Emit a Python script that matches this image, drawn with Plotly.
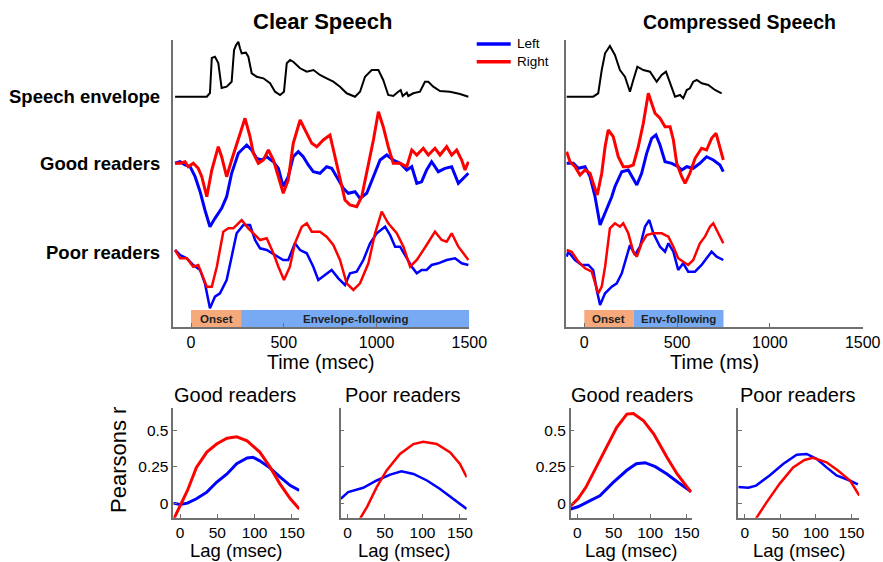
import plotly.graph_objects as go

# ---------------- DATA ----------------
# Top panels: time in ms, amplitude in arbitrary display units relative to each row baseline
ENV_BASE, GOOD_BASE, POOR_BASE = 230.3, 163.7, 77.0

clear_env_t = [-86, 85, 102, 112, 129, 147, 165, 192, 219, 232, 243, 255, 264, 273, 296, 309, 327, 354, 390, 426, 453, 480, 501, 516, 534, 551, 588, 624, 660, 695, 731, 767, 803, 839, 884, 911, 938, 974, 1010, 1036, 1063, 1090, 1117, 1130, 1141, 1163, 1171, 1198, 1234, 1261, 1279, 1306, 1342, 1396, 1450, 1495]
clear_env_v = [0, 0, 3.7, 38.7, 40, 33.7, 8.7, 10, 15, 46.7, 51.7, 55, 48.4, 43.4, 44, 40, 23.4, 20, 18.4, 13.4, 5, 1.7, 5, 33.4, 36.7, 35, 28.4, 25, 26.7, 21.7, 18.4, 15, 10, 3.4, 0, 5, 20, 26.7, 26.7, 16.7, 1.7, 0.7, 5, 6.7, 0.7, 4, 0.7, 3.4, 5, 15, 15, 10, 5.7, 5, 2.7, 0]

clear_good_left_t = [-86, -59, -32, -5, 22, 49, 75, 102, 129, 165, 192, 219, 255, 300, 327, 354, 381, 408, 444, 471, 497, 524, 551, 578, 605, 632, 659, 695, 731, 758, 785, 821, 848, 884, 911, 947, 983, 1019, 1055, 1090, 1127, 1163, 1190, 1217, 1243, 1270, 1297, 1333, 1369, 1405, 1441, 1468, 1495]
clear_good_left_v = [0, 1.6, -1.7, -3.4, -13.4, -28.4, -46.7, -63.4, -55, -45, -33.4, -10, 10, 18.3, 13.3, 5, 3.3, 6.6, 1.6, -5, -23.4, -13.4, 6.6, 11.6, 6.6, -1.7, -8.4, -10, -3.4, -5, -13.4, -25, -30, -28.4, -35, -30, -13.4, 3.3, 8.3, 3.3, 0, -6.7, -3.4, -20, -18.4, -6.7, 1.6, -8.4, -5, -3.4, -20, -15, -10]

clear_good_right_t = [-86, -59, -32, -15, 12, 39, 58, 85, 112, 147, 165, 192, 219, 255, 291, 318, 336, 363, 390, 417, 444, 471, 497, 524, 551, 588, 615, 651, 678, 713, 749, 767, 803, 830, 857, 893, 920, 947, 983, 1010, 1036, 1063, 1090, 1127, 1163, 1190, 1217, 1252, 1279, 1315, 1342, 1378, 1405, 1432, 1459, 1477, 1495]
clear_good_right_v = [0, 0, 1.6, -3.4, 0, -5, -13.4, -33.4, -6.7, 16.6, 6.6, -13.4, 3.3, 23.3, 45, 26.6, 10, 0, 3.3, 13.3, 3.3, -13.4, -30, -16.7, 20, 43.3, 33.3, 20, 16.6, 23.3, 28.3, 13.3, -16.7, -36.7, -41.7, -43.4, -33.4, -10, 23.3, 51.6, 36.6, 16.6, 0, 0, -3.4, 13.3, 8.3, 15, 8.3, 15, 8.3, 16.6, 8.3, 13.3, 3.3, -6.7, 1.6]

clear_poor_left_t = [-86, -59, -23, 12, 49, 75, 102, 129, 156, 192, 219, 246, 282, 318, 345, 372, 408, 453, 497, 524, 560, 588, 624, 659, 686, 722, 758, 794, 830, 857, 893, 929, 965, 1001, 1046, 1073, 1100, 1127, 1163, 1190, 1217, 1243, 1270, 1297, 1333, 1378, 1423, 1459, 1495]
clear_poor_left_v = [0, -5, -8.3, -15, -20, -33.3, -58.3, -46.7, -43.3, -30, -6.7, 16.7, 25, 25, 10, 1.7, 0, -5, -10, -10, 6.7, 0, -3.3, -16.7, -30, -25, -20, -28.3, -35, -23.3, -21.7, -10, 6.7, 16.7, 23.3, 15, 3.3, 3.3, -8.3, -16.7, -23.3, -20, -20, -15, -13.3, -10, -8.3, -13.3, -15]

clear_poor_right_t = [-86, -59, -23, 12, 39, 66, 85, 112, 139, 174, 201, 228, 273, 309, 345, 372, 408, 444, 471, 501, 533, 560, 597, 624, 651, 695, 731, 767, 803, 839, 875, 911, 956, 992, 1028, 1063, 1109, 1145, 1181, 1217, 1270, 1315, 1351, 1378, 1405, 1441, 1468, 1495]
clear_poor_right_v = [0, -8.3, -8.3, -16.7, -15, -28.3, -36.7, -36.7, -16.7, 18.3, 21.7, 21.7, 30, 21.7, 15, 10, 11.7, -3.3, -16.7, -30, -16.7, 6.7, 23.3, 26.7, 18.3, 18.3, 13.3, 5, -10, -33.3, -40, -33.3, -13.3, 16.7, 38.3, 26.7, 16.7, 3.3, -16.7, -10, 5, 18.3, 10, 8.3, 16.7, 3.3, -3.3, -10]

comp_env_t = [-95, 48, 75, 94, 112, 138, 165, 192, 219, 246, 264, 286, 318, 354, 390, 417, 440, 462, 489, 516, 533, 552, 569, 587, 606, 633, 668, 704, 740]
comp_env_v = [0, 0, 3.4, 26.7, 43.4, 50.7, 41.7, 26.7, 20, 5, 16.7, 30, 26.7, 25, 15, 21.7, 25, 13.4, 0, 1.7, -1.6, 6.7, 8.4, 15, 16.7, 13.4, 11.7, 6.7, 3.4]

comp_good_left_t = [-95, -59, -32, 4, 31, 58, 85, 112, 148, 165, 202, 237, 264, 283, 309, 336, 363, 386, 408, 435, 471, 506, 525, 552, 587, 623, 659, 695, 731, 749]
comp_good_left_v = [0, 0, -5, -3.4, -13.4, -33.4, -61.7, -50, -33.4, -23.4, -8.4, -6.7, -15, -21.7, -10, 10, 25, 28.3, 18.3, 1.6, 0, -3.4, -6.7, -3.4, -5, 0, 6.6, 3.3, -1.7, -8.4]

comp_good_right_t = [-95, -77, -50, -23, 4, 31, 48, 70, 94, 112, 129, 156, 183, 210, 237, 264, 291, 318, 345, 363, 381, 408, 435, 462, 480, 498, 525, 543, 569, 597, 632, 659, 686, 710, 731, 749]
comp_good_right_v = [11.6, 1.6, -3.4, -11.7, -6.7, -10, -20, -31.7, -10, 16.6, 33.3, 26.6, 6.6, -3.4, -3.4, -1.7, 16.6, 40, 70, 60, 50, 45, 36.6, 36.6, 23.3, 0, -13.4, -20, -10, 5, 15, 13.3, 25, 30, 16.6, 3.3]

comp_poor_left_t = [-95, -86, -50, -14, 22, 48, 67, 85, 112, 148, 175, 202, 228, 246, 273, 300, 327, 350, 372, 408, 435, 453, 480, 506, 533, 560, 596, 632, 659, 686, 713, 749]
comp_poor_left_v = [-6.7, -1.7, -10, -15, -15, -20, -40, -55, -43.3, -36.7, -33.3, -23.3, -6.7, 5, -5, 3.3, 23.3, 30, 16.7, 3.3, -1.7, 6.7, -1.7, -20, -13.3, -21.7, -21.7, -15, -8.3, -1.7, -6.7, -10]

comp_poor_right_t = [-95, -68, -32, 4, 40, 58, 75, 94, 112, 138, 165, 192, 210, 237, 264, 283, 309, 336, 372, 417, 453, 480, 506, 533, 560, 587, 623, 650, 677, 695, 722, 749]
comp_poor_right_v = [0, -1.7, -11.7, -18.3, -21.7, -33.3, -43.3, -36.7, -16.7, 21.7, 26.7, 23.3, 26.7, 16.7, -1.7, -6.7, 6.7, 15, 16.7, 16.7, 13.3, 3.3, -8.3, -11.7, -15, -10, 6.7, 13.3, 23.3, 26.7, 16.7, 6.7]

# Bottom panels: lag (ms) vs Pearson r
cg_left_lag = [-9, 0, 10, 22, 36, 49, 63, 76, 90, 98, 107, 121, 134, 148, 160]
cg_left_r = [0.0, -0.01, 0.0, 0.03, 0.075, 0.143, 0.2, 0.27, 0.31, 0.314, 0.29, 0.24, 0.18, 0.12, 0.087]
cg_right_lag = [-8, 0, 10, 22, 36, 49, 63, 76, 90, 107, 121, 134, 148, 160]
cg_right_r = [-0.105, -0.02, 0.087, 0.245, 0.35, 0.405, 0.445, 0.455, 0.427, 0.35, 0.245, 0.132, 0.03, -0.04]

cp_left_lag = [-9, 1, 21, 39, 57, 72, 88, 106, 123, 141, 159]
cp_left_r = [0.03, 0.075, 0.105, 0.155, 0.195, 0.218, 0.2, 0.155, 0.098, 0.03, -0.04]
cp_right_lag = [17, 26, 39, 52, 70, 88, 101, 119, 137, 150, 159]
cp_right_r = [-0.105, -0.027, 0.109, 0.223, 0.337, 0.405, 0.42, 0.405, 0.348, 0.268, 0.177]

mg_left_lag = [-9, 1, 17, 31, 49, 68, 81, 93, 107, 123, 139, 156]
mg_left_r = [-0.04, -0.025, 0.015, 0.05, 0.14, 0.225, 0.27, 0.277, 0.25, 0.2, 0.14, 0.08]
mg_right_lag = [-9, 1, 12, 26, 40, 54, 68, 77, 91, 105, 123, 137, 156]
mg_right_r = [-0.02, 0.03, 0.11, 0.245, 0.38, 0.518, 0.61, 0.614, 0.564, 0.473, 0.314, 0.2, 0.075]

mp_left_lag = [-9, 5, 16, 35, 54, 73, 87, 101, 115, 129, 145, 159]
mp_left_r = [0.11, 0.105, 0.12, 0.19, 0.268, 0.332, 0.337, 0.303, 0.245, 0.19, 0.16, 0.128]
mp_right_lag = [16, 30, 49, 68, 84, 96, 115, 131, 148, 161]
mp_right_r = [-0.105, 0.0, 0.132, 0.245, 0.296, 0.31, 0.28, 0.223, 0.155, 0.052]

time_ticks = [0, 500, 1000, 1500]
lag_ticks = [0, 50, 100, 150]
r_ticks = [0, 0.25, 0.5]
r_tick_labels = ["0", "0.25", "0.5"]

# ---------------- LAYOUT HELPERS ----------------
W, H = 883, 562
FONT = "Arial, Liberation Sans, sans-serif"
BLUE, RED = "#0000FF", "#FF0000"
AXC = "#707070"

def px(x):
    return x / W

def py(y):
    return 1 - y / H

fig = go.Figure()

def add(xs, ys, xa, ya, color, width, base=0.0):
    fig.add_trace(go.Scatter(
        x=xs, y=[v + base for v in ys], mode="lines",
        line=dict(color=color, width=width),
        xaxis=xa, yaxis=ya, showlegend=False, hoverinfo="skip"))

# top-left (clear speech)
add(clear_env_t, clear_env_v, "x", "y", "black", 2, base=ENV_BASE)
add(clear_good_left_t, clear_good_left_v, "x", "y", BLUE, 3, base=GOOD_BASE)
add(clear_good_right_t, clear_good_right_v, "x", "y", RED, 3, base=GOOD_BASE)
add(clear_poor_left_t, clear_poor_left_v, "x", "y", BLUE, 2.5, base=POOR_BASE)
add(clear_poor_right_t, clear_poor_right_v, "x", "y", RED, 2.5, base=POOR_BASE)
# top-right (compressed)
add(comp_env_t, comp_env_v, "x2", "y2", "black", 2, base=ENV_BASE)
add(comp_good_left_t, comp_good_left_v, "x2", "y2", BLUE, 3, base=GOOD_BASE)
add(comp_good_right_t, comp_good_right_v, "x2", "y2", RED, 3, base=GOOD_BASE)
add(comp_poor_left_t, comp_poor_left_v, "x2", "y2", BLUE, 2.5, base=POOR_BASE)
add(comp_poor_right_t, comp_poor_right_v, "x2", "y2", RED, 2.5, base=POOR_BASE)
# bottom
add(cg_left_lag, cg_left_r, "x3", "y3", BLUE, 3)
add(cg_right_lag, cg_right_r, "x3", "y3", RED, 3)
add(cp_left_lag, cp_left_r, "x4", "y4", BLUE, 2.5)
add(cp_right_lag, cp_right_r, "x4", "y4", RED, 2.5)
add(mg_left_lag, mg_left_r, "x5", "y5", BLUE, 3)
add(mg_right_lag, mg_right_r, "x5", "y5", RED, 3)
add(mp_left_lag, mp_left_r, "x6", "y6", BLUE, 2.5)
add(mp_right_lag, mp_right_r, "x6", "y6", RED, 2.5)

tickfont_top = dict(family=FONT, size=16, color="black")
tickfont_bot = dict(family=FONT, size=15.5, color="black")

def xaxis_top(dom, rng, anchor):
    return dict(domain=dom, range=rng, tickvals=time_ticks, ticks="inside", ticklen=4,
                tickcolor=AXC, showline=True, linecolor=AXC, linewidth=1.5, showgrid=False,
                zeroline=False, tickfont=tickfont_top, anchor=anchor, automargin=False)

def yaxis_top(dom, anchor):
    return dict(domain=dom, range=[0, 287], showticklabels=False, ticks="", showline=True,
                linecolor=AXC, linewidth=1.5, showgrid=False, zeroline=False, anchor=anchor,
                automargin=False)

def xaxis_bot(dom, rng, anchor):
    return dict(domain=dom, range=rng, tickvals=lag_ticks, ticks="inside", ticklen=4,
                tickcolor=AXC, showline=True, linecolor=AXC, linewidth=1.5, showgrid=False,
                zeroline=False, tickfont=tickfont_bot, anchor=anchor, automargin=False)

def yaxis_bot(dom, anchor, labels):
    return dict(domain=dom, range=[-0.1, 0.65], tickvals=r_ticks, ticktext=r_tick_labels,
                showticklabels=labels, ticks="inside", ticklen=4, tickcolor=AXC,
                showline=True, linecolor=AXC, linewidth=1.5, showgrid=False, zeroline=False,
                tickfont=tickfont_bot, anchor=anchor, automargin=False)

top_y = [py(327), py(40)]
bot_y = [py(517.7), py(408.3)]

fig.update_layout(
    width=W, height=H, margin=dict(l=0, r=0, t=0, b=0, autoexpand=False),
    paper_bgcolor="white", plot_bgcolor="rgba(0,0,0,0)",
    font=dict(family=FONT, color="black"), showlegend=False,
    xaxis=xaxis_top([px(173.4), px(469.3)], [-95, 1500], "y"),
    yaxis=yaxis_top(top_y, "x"),
    xaxis2=xaxis_top([px(566.1), px(862.7)], [-98, 1500], "y2"),
    yaxis2=yaxis_top(top_y, "x2"),
    xaxis3=xaxis_bot([px(173.3), px(299.3)], [-9, 160], "y3"),
    yaxis3=yaxis_bot(bot_y, "x3", True),
    xaxis4=xaxis_bot([px(340.7), px(466.7)], [-9, 159], "y4"),
    yaxis4=yaxis_bot(bot_y, "x4", False),
    xaxis5=xaxis_bot([px(570.7), px(691.7)], [-9, 157], "y5"),
    yaxis5=yaxis_bot(bot_y, "x5", True),
    xaxis6=xaxis_bot([px(738.3), px(859.3)], [-9, 161], "y6"),
    yaxis6=yaxis_bot(bot_y, "x6", False),
)

# Onset / envelope-following bars
ONSET_C, ENV_C = "#F6A97B", "#77AAF2"
bars = [("x", "y", 0, 270, 1500, "Envelope-following"), ("x2", "y2", 0, 265, 750, "Env-following")]
for xa, ya, t0, t1, t2, lab in bars:
    fig.add_shape(type="rect", xref=xa, yref=ya, x0=t0, x1=t1, y0=0, y1=17,
                  fillcolor=ONSET_C, line=dict(width=0), layer="below")
    fig.add_shape(type="rect", xref=xa, yref=ya, x0=t1, x1=t2, y0=0, y1=17,
                  fillcolor=ENV_C, line=dict(width=0), layer="below")
    fig.add_annotation(x=(t0 + t1) / 2, y=8.5, xref=xa, yref=ya, text="<b>Onset</b>",
                       showarrow=False, font=dict(family=FONT, size=11.5, color="#222"))
    fig.add_annotation(x=(t1 + t2) / 2, y=8.5, xref=xa, yref=ya, text=f"<b>{lab}</b>",
                       showarrow=False, font=dict(family=FONT, size=11.5, color="#222"))

def note(x, y, text, size, anchor="center", bold=False, angle=0):
    fig.add_annotation(x=px(x), y=py(y), xref="paper", yref="paper",
                       text=f"<b>{text}</b>" if bold else text, showarrow=False,
                       xanchor=anchor, yanchor="middle", textangle=angle,
                       font=dict(family=FONT, size=size, color="black"))

# legend (drawn manually)
for yy, col, lab in [(44, BLUE, "Left"), (61.7, RED, "Right")]:
    fig.add_shape(type="line", xref="paper", yref="paper", x0=px(476.7), x1=px(510.7),
                  y0=py(yy), y1=py(yy), line=dict(color=col, width=3.5))
    note(515, yy, lab, 13.5, anchor="left")

note(322, 22, "Clear Speech", 22, bold=True)
note(739, 22, "Compressed Speech", 19.5, bold=True)
note(162, 97, "Speech envelope", 18.5, anchor="right", bold=True)
note(162, 164, "Good readers", 18.5, anchor="right", bold=True)
note(162, 252, "Poor readers", 18.5, anchor="right", bold=True)
note(321, 362, "Time (msec)", 19.5)
note(714, 362, "Time (ms)", 20)
note(235, 395, "Good readers", 20)
note(403, 395, "Poor readers", 20)
note(632, 395, "Good readers", 20)
note(798, 395, "Poor readers", 20)
note(236, 550, "Lag (msec)", 18.5)
note(404, 550, "Lag (msec)", 18.5)
note(631, 550, "Lag (msec)", 18.5)
note(799, 550, "Lag (msec)", 18.5)
note(118, 460, "Pearsons r", 22, angle=-90)

fig.write_html("out.html")
